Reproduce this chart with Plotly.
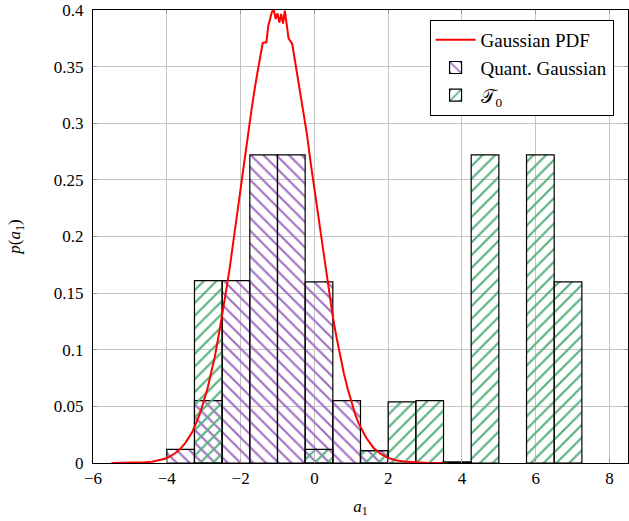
import plotly.graph_objects as go

# ---- data ----
bin_centers = [-3.625, -2.875, -2.125, -1.375, -0.625, 0.125, 0.875, 1.625,
               2.375, 3.125, 3.875, 4.625, 5.375, 6.125, 6.875]
bin_width = 0.75
quant_gauss = [0.012, 0.055, 0.161, 0.272, 0.272, 0.160, 0.055, 0.011,
               0.0, 0.0, 0.0, 0.0, 0.0, 0.0, 0.0]
t0 = [0.0, 0.161, 0.0, 0.0, 0.0, 0.012, 0.0, 0.011,
      0.054, 0.055, 0.001, 0.272, 0.0, 0.272, 0.160]

pdf_x = [-5.5, -5.0, -4.8, -4.6, -4.4, -4.2, -4.0, -3.9, -3.8, -3.7, -3.6, -3.5,
         -3.4, -3.3, -3.2, -3.1, -3.0, -2.9, -2.8, -2.7, -2.6, -2.5, -2.4, -2.3,
         -2.2, -2.1, -2.0, -1.9, -1.8, -1.7, -1.6, -1.5, -1.4, -1.3, -1.25, -1.2,
         -1.15, -1.1, -1.05, -1.0, -0.95, -0.9, -0.85, -0.8, -0.75, -0.7, -0.6,
         -0.5, -0.4, -0.3, -0.2, -0.1, 0.0, 0.1, 0.2, 0.3, 0.4, 0.5, 0.6, 0.7,
         0.8, 0.9, 1.0, 1.1, 1.2, 1.4, 1.6, 1.8, 2.0, 2.2, 2.5, 2.8, 3.1, 3.5]
pdf_y = [0.0000, 0.0002, 0.0003, 0.0006, 0.0012, 0.0024, 0.0042, 0.0060, 0.0081, 0.0103, 0.0138, 0.0176,
         0.0226, 0.0281, 0.0357, 0.0438, 0.0545, 0.0652, 0.0795, 0.0935, 0.1115, 0.1292, 0.1505, 0.1710,
         0.1950, 0.2170, 0.2430, 0.2655, 0.2905, 0.3130, 0.3340, 0.3520, 0.3710, 0.3715, 0.3860, 0.3920,
         0.3985, 0.4000, 0.3920, 0.3970, 0.3890, 0.3965, 0.3880, 0.3995, 0.3860, 0.3750, 0.3700,
         0.3500, 0.3340, 0.3110, 0.2900, 0.2650, 0.2420, 0.2170, 0.1950, 0.1710, 0.1495, 0.1290, 0.1110, 0.0935,
         0.0790, 0.0660, 0.0540, 0.0435, 0.0350, 0.0225, 0.0135, 0.0080, 0.0045, 0.0025, 0.0010, 0.0004, 0.0001, 0.0]

x_ticks = [-6, -4, -2, 0, 2, 4, 6, 8]
y_ticks = [0, 0.05, 0.1, 0.15, 0.2, 0.25, 0.3, 0.35, 0.4]
y_tick_labels = ["0", "0.05", "0.1", "0.15", "0.2", "0.25", "0.3", "0.35", "0.4"]

PURPLE = "#a270c4"
GREEN = "#57b080"
FONT = "Liberation Serif"

def nonzero(xs, ys):
    pts = [(x, y) for x, y in zip(xs, ys) if y > 0]
    return [p[0] for p in pts], [p[1] for p in pts]

fig = go.Figure()

fig.add_trace(go.Scatter(
    x=pdf_x, y=pdf_y, mode="lines", name="Gaussian PDF",
    line=dict(color="#ff0000", width=2),
))

qx, qy = nonzero(bin_centers, quant_gauss)
fig.add_trace(go.Bar(
    x=qx, y=qy, width=bin_width, name="Quant. Gaussian",
    marker=dict(color="rgba(255,255,255,0)",
                line=dict(color="black", width=1.2),
                pattern=dict(shape="\\", fgcolor=PURPLE, fillmode="overlay",
                             fgopacity=1, size=9, solidity=0.24)),
))

tx, ty = nonzero(bin_centers, t0)
fig.add_trace(go.Bar(
    x=tx, y=ty, width=bin_width, name="𝒯<sub>0</sub>",
    marker=dict(color="rgba(255,255,255,0)",
                line=dict(color="black", width=1.2),
                pattern=dict(shape="/", fgcolor=GREEN, fillmode="overlay",
                             fgopacity=1, size=9, solidity=0.24)),
))

fig.update_layout(
    width=629, height=521,
    margin=dict(l=93, r=1, t=10, b=58),
    paper_bgcolor="white", plot_bgcolor="white",
    barmode="overlay",
    font=dict(family=FONT, size=16, color="black"),
    showlegend=True,
    legend=dict(x=0.973, y=0.978, xanchor="right", yanchor="top",
                bgcolor="white", bordercolor="black", borderwidth=1,
                font=dict(family=FONT, size=19), tracegroupgap=0,
                itemwidth=40),
    xaxis=dict(range=[-6, 8.5], tickvals=x_ticks, showgrid=True, automargin=False,
               gridcolor="#c4c4c4", gridwidth=1, zeroline=False,
               showline=True, linecolor="black", linewidth=1, mirror="allticks",
               ticks="inside", ticklen=4, tickcolor="#999999",
               tickfont=dict(family=FONT, size=17),
               title=dict(text="<i>a</i><sub>1</sub>", font=dict(family=FONT, size=17), standoff=12)),
    yaxis=dict(range=[0, 0.4], tickvals=y_ticks, ticktext=y_tick_labels, showgrid=True, automargin=False,
               gridcolor="#c4c4c4", gridwidth=1, zeroline=False,
               showline=True, linecolor="black", linewidth=1, mirror="allticks",
               ticks="inside", ticklen=4, tickcolor="#999999", ticklabelstandoff=5,
               tickfont=dict(family=FONT, size=17),
               title=dict(text="<i>p</i>(<i>a</i><sub>1</sub>)", font=dict(family=FONT, size=17), standoff=28)),
)

fig.write_html("out.html", config={"displayModeBar": False},
               post_script="document.body.style.margin='0px';")
